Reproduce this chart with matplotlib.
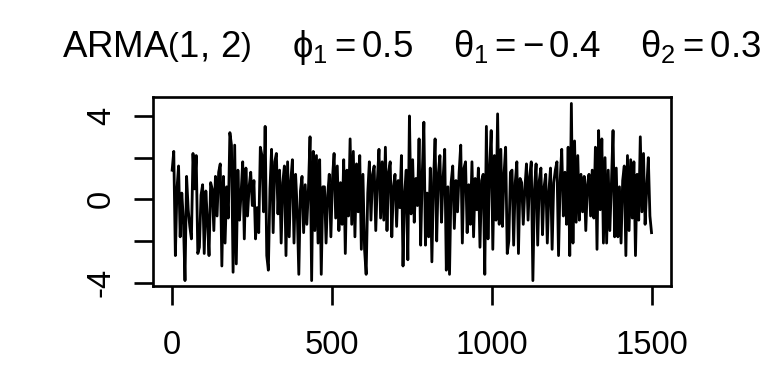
import numpy as np
import matplotlib
matplotlib.use("Agg")
import matplotlib.pyplot as plt

# simulated ARMA(1,2) path (every ~5th step)
arma_values = [
    1.4, 2.3, -2.7, 0.5, 1.6, -1.8, 0.3, -1.0, -3.9, 1.1, -0.5, -1.3, -1.9, 2.2, 0.5,
    2.1, -2.6, -2.3, 0.2, 0.7, -2.6, 0.4, -1.0, -2.7, 0.8, 0.5, -1.5, 1.1, -0.8, 1.3,
    1.7, -3.2, 1.1, -2.1, 0.6, -0.9, 3.2, 2.6, -3.5, 2.6, -3.1, 1.4, -1.0, 0.3, 1.8,
    -1.9, 1.5, -0.8, 0.6, 1.3, -0.3, 0.9, -1.9, -0.4, -1.6, 2.5, 2.1, -0.6, 3.5, -2.7,
    -3.4, 0.5, 2.4, -1.6, 1.8, 2.2, -0.7, 1.4, -2.1, 0.8, 1.6, -2.7, 1.8, -1.8, 0.9,
    1.9, -2.1, 1.2, -0.5, -3.6, 0.4, 1.1, -1.6, 0.7, -1.2, 0.5, 3.0, -3.9, 2.3, -1.5,
    2.1, -2.1, 1.9, -3.6, 0.6, 0.6, -2.1, 0.2, 1.2, -1.8, 1.0, 2.2, -0.9, 1.6, -1.5,
    0.8, -1.2, 1.9, -2.6, 1.4, -0.8, 2.9, -1.2, 2.3, -1.8, 1.7, -0.6, 2.1, -2.4, 1.2,
    -2.4, -3.6, 0.3, 1.8, -1.0, 1.2, 1.6, -1.5, 0.9, 2.4, -0.9, 1.8, -1.0, 2.5, -1.5,
    1.3, 1.8, -1.8, 0.6, 1.2, -1.3, 0.9, -0.4, 2.1, -3.2, 0.3, 1.4, -2.9, 4.0, -0.7,
    1.9, -1.1, 1.0, -0.3, 2.9, -2.2, 1.2, 3.7, -2.2, 0.3, -1.8, 1.5, -3.0, 0.8, 2.9,
    -2.0, 1.2, 2.1, -1.1, 1.0, 2.4, -3.4, 0.6, -3.6, 0.8, 1.6, -1.4, 0.9, -0.6, 1.3,
    2.6, -2.1, 1.5, 1.8, -1.6, 0.7, -1.2, 1.8, -1.8, 1.0, -0.5, 1.5, -2.3, 0.9, 1.2,
    -3.6, 3.5, -1.9, 1.5, 3.3, -2.4, 2.1, -1.0, 4.1, -1.2, 2.4, -1.3, 1.2, 2.5, -2.6,
    -2.0, 1.3, 1.4, -2.2, 0.8, 1.8, -2.6, 1.0, 0.8, -1.2, 0.5, 1.7, -1.0, 1.1, 1.8,
    -3.9, 0.5, 1.7, -2.2, 0.9, 1.5, -1.7, 0.6, 1.2, -2.1, 0.4, 1.5, -2.4, 0.8, 1.4,
    1.8, -2.7, 0.9, 2.4, -0.8, 1.3, -1.2, 2.5, -2.7, 4.6, -2.1, 2.8, -1.1, 2.1, -1.0,
    1.2, -0.6, 1.1, -1.5, 0.7, 1.2, -0.8, 1.4, -0.9, 2.5, -2.4, 3.3, -0.5, 2.9, -2.1,
    2.0, -2.1, 1.4, -1.5, 0.8, 3.3, -1.8, 1.5, -1.8, 0.6, -2.1, 0.9, 1.6, -2.7, 2.1,
    -1.5, 1.9, -0.9, 1.8, -2.7, 1.2, -1.0, 3.0, -0.6, 2.2, -1.2, 0.5, 2.0, -0.8, -1.6,
]
n_obs = 1500
x_ticks = [0, 500, 1000, 1500]
y_ticks = [-4, -2, 0, 2, 4]
y_tick_labels = ["-4", "", "0", "", "4"]
title = (r"ARMA$\left(1,\,2\right)$    $\phi_1 = 0.5$    "
         r"$\theta_1 = -\,0.4$    $\theta_2 = 0.3$")

plt.rcParams["font.family"] = ["Liberation Sans", "DejaVu Sans"]
plt.rcParams["mathtext.fontset"] = "custom"
plt.rcParams["mathtext.rm"] = "Liberation Sans"
plt.rcParams["mathtext.it"] = "Liberation Sans"
plt.rcParams["mathtext.bf"] = "Liberation Sans:bold"

fig = plt.figure(figsize=(8, 4), dpi=96)
ax = fig.add_axes([0.1992, 0.2552, 0.8733 - 0.1992, 0.7474 - 0.2552])

t = np.linspace(1, n_obs, len(arma_values))
ax.plot(t, arma_values, color="black", lw=2.1)

ax.set_xlim(1 - 0.04 * (n_obs - 1), n_obs + 0.04 * (n_obs - 1))
ax.set_ylim(-4.16, 4.91)
ax.set_xticks(x_ticks)
ax.set_xticklabels([str(v) for v in x_ticks])
ax.set_yticks(y_ticks)
ax.set_yticklabels(y_tick_labels, rotation=90, va="center")

for s in ax.spines.values():
    s.set_linewidth(2.0)
ax.tick_params(axis="both", length=14, width=2.0, labelsize=24.5, direction="out")
ax.tick_params(axis="x", pad=19)
ax.tick_params(axis="y", pad=13)

fig.text(0.5363, 0.8516, title, ha="center", va="baseline", fontsize=27.5)

fig.savefig("out.png", dpi=96)
